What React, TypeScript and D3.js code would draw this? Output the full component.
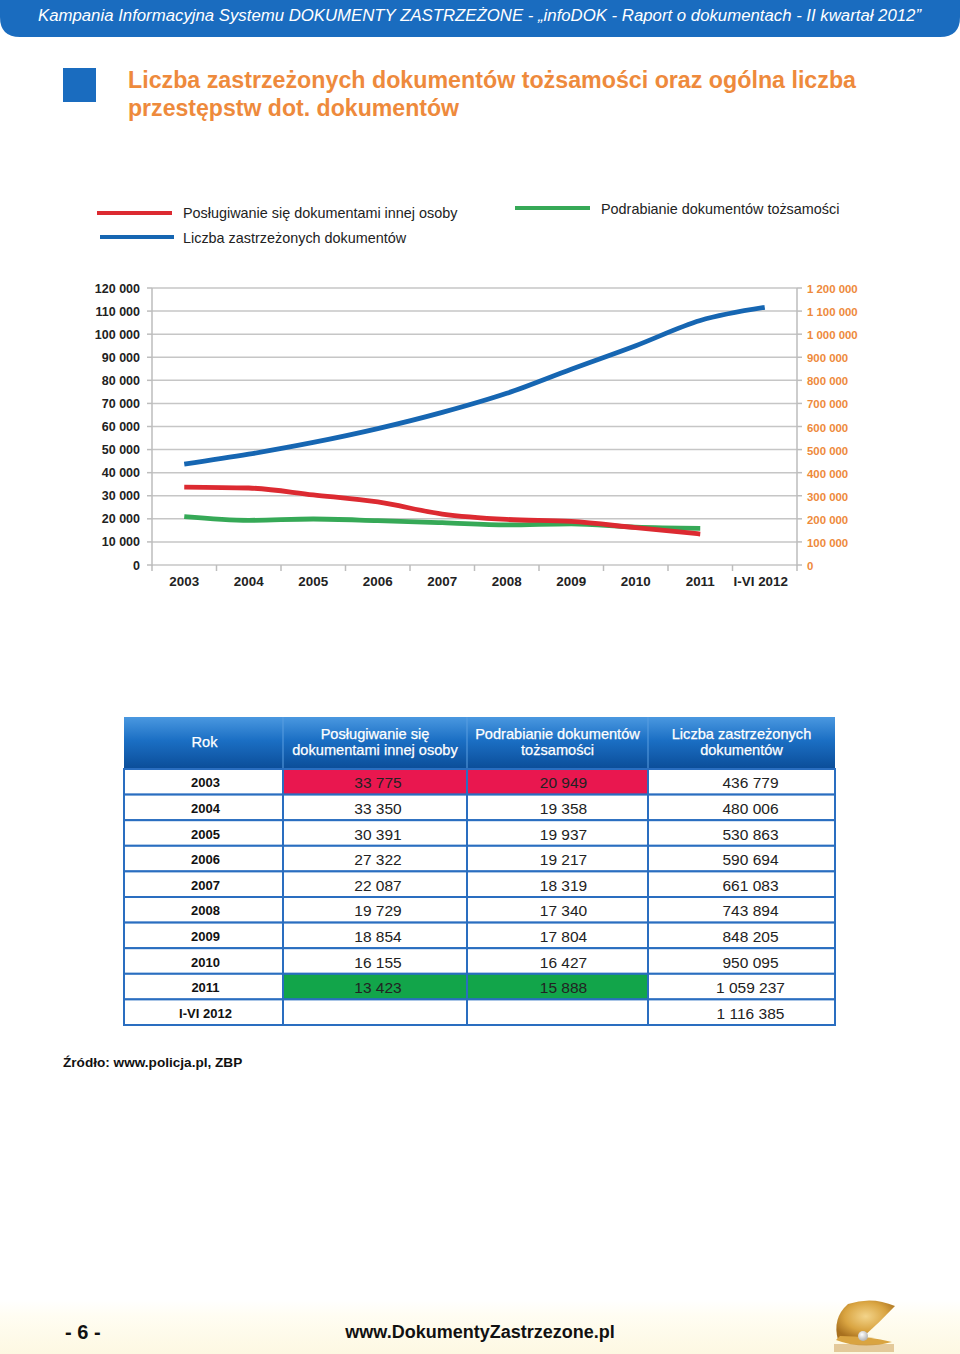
import React from 'react';
import * as d3 from 'd3';

const years = ['2003', '2004', '2005', '2006', '2007', '2008', '2009', '2010', '2011', 'I-VI 2012'];
const uzywanie: (number | null)[] = [33775, 33350, 30391, 27322, 22087, 19729, 18854, 16155, 13423, null];
const podrabianie: (number | null)[] = [20949, 19358, 19937, 19217, 18319, 17340, 17804, 16427, 15888, null];
const zastrzezone: (number | null)[] = [436779, 480006, 530863, 590694, 661083, 743894, 848205, 950095, 1059237, 1116385];
const leftTicks = [0, 10000, 20000, 30000, 40000, 50000, 60000, 70000, 80000, 90000, 100000, 110000, 120000];
const rightTicks = [0, 100000, 200000, 300000, 400000, 500000, 600000, 700000, 800000, 900000, 1000000, 1100000, 1200000];
const seriesNames = ['Posługiwanie się dokumentami innej osoby', 'Podrabianie dokumentów tożsamości', 'Liczba zastrzeżonych dokumentów'];
const tableHeaders = [['Rok'], ['Posługiwanie się', 'dokumentami innej osoby'], ['Podrabianie dokumentów', 'tożsamości'], ['Liczba zastrzeżonych', 'dokumentów']];

const RED = '#dc2a31';
const GREEN = '#36a957';
const BLUE = '#1666b2';
const ORANGE = '#ee8a3c';
const SANS = "'Liberation Sans', Arial, sans-serif";

const fmt = (v: number | null) => (v == null ? '' : d3.format(',')(v).replace(/,/g, ' '));

export default function App() {
  const x = d3.scaleBand<string>().domain(years).range([152, 797]);
  const cx = (d: string) => (x(d) as number) + x.bandwidth() / 2;
  const yL = d3.scaleLinear().domain([0, 120000]).range([565, 288]);
  const yR = d3.scaleLinear().domain([0, 1200000]).range([565, 288]);

  const mkLine = (scale: d3.ScaleLinear<number, number>) =>
    d3
      .line<[string, number | null]>()
      .defined((d) => d[1] != null)
      .x((d) => cx(d[0]))
      .y((d) => scale(d[1] as number))
      .curve(d3.curveMonotoneX);

  const zip = (arr: (number | null)[]) => years.map((y, i) => [y, arr[i]] as [string, number | null]);

  // table layout
  const colX = [124, 283, 467, 648, 835];
  const valShift = [2, 3, 6, 9];
  const headTop = 717;
  const headBot = 769;
  const rowH = 25.6;
  const rows = years.map((y, i) => [y, uzywanie[i], podrabianie[i], zastrzezone[i]] as [string, number | null, number | null, number | null]);
  const highlight = (ri: number, ci: number) => {
    if ((ci === 1 || ci === 2) && ri === 0) return '#e9174f';
    if ((ci === 1 || ci === 2) && ri === 8) return '#12a54a';
    return '#ffffff';
  };

  return (
    <div style={{ position: 'absolute', left: 0, top: 0 }}>
      <svg width={960} height={1354} style={{ display: 'block', fontFamily: SANS }}>
        <defs>
          <linearGradient id="headG" x1="0" x2="0" y1="0" y2="1">
            <stop offset="0" stopColor="#4a98e0" />
            <stop offset="0.45" stopColor="#1b6fc4" />
            <stop offset="1" stopColor="#0b4d98" />
          </linearGradient>
          <linearGradient id="footG" x1="0" x2="0" y1="0" y2="1">
            <stop offset="0" stopColor="#ffffff" />
            <stop offset="0.3" stopColor="#fffdf2" />
            <stop offset="1" stopColor="#fdf8e2" />
          </linearGradient>
          <radialGradient id="shellG" cx="0.5" cy="0.4" r="0.6">
            <stop offset="0" stopColor="#f3d48a" />
            <stop offset="0.6" stopColor="#d9a441" />
            <stop offset="1" stopColor="#a8701e" />
          </radialGradient>
          <radialGradient id="pearlG" cx="0.4" cy="0.35" r="0.6">
            <stop offset="0" stopColor="#ffffff" />
            <stop offset="1" stopColor="#b8b8b8" />
          </radialGradient>
        </defs>
        <rect x={0} y={0} width={960} height={1354} fill="#ffffff" />

        {/* top banner */}
        <path d="M0,0 H960 V17 Q960,37 940,37 H20 Q0,37 0,17 Z" fill="#1a6cbf" />
        <text x={38} y={21} fontSize={16} fontStyle="italic" fill="#ffffff" textLength={883} lengthAdjust="spacingAndGlyphs">
          Kampania Informacyjna Systemu DOKUMENTY ZASTRZEŻONE - „infoDOK - Raport o dokumentach - II kwartał 2012”
        </text>

        {/* title */}
        <rect x={63} y={68} width={33} height={34} fill="#1a6cbf" />
        <text x={128} y={88} fontSize={23} fontWeight={600} fill={ORANGE} textLength={728} lengthAdjust="spacingAndGlyphs">
          Liczba zastrzeżonych dokumentów tożsamości oraz ogólna liczba
        </text>
        <text x={128} y={116} fontSize={23} fontWeight={600} fill={ORANGE} textLength={331} lengthAdjust="spacingAndGlyphs">
          przestępstw dot. dokumentów
        </text>

        {/* legend */}
        <line x1={97} x2={172} y1={213} y2={213} stroke={RED} strokeWidth={4} />
        <text x={183} y={218} fontSize={14.4} fill="#222">{seriesNames[0]}</text>
        <line x1={100} x2={174} y1={237} y2={237} stroke={BLUE} strokeWidth={4} />
        <text x={183} y={242.5} fontSize={14.4} fill="#222">{seriesNames[2]}</text>
        <line x1={515} x2={590} y1={208} y2={208} stroke={GREEN} strokeWidth={4} />
        <text x={601} y={213.5} fontSize={14.4} fill="#222">{seriesNames[1]}</text>

        {/* gridlines */}
        {leftTicks.map((t) => (
          <line key={'g' + t} x1={152} x2={797} y1={yL(t)} y2={yL(t)} stroke="#c6c6c6" strokeWidth={1.5} />
        ))}
        {/* axes */}
        <line x1={152} x2={152} y1={288} y2={566} stroke="#bdbdbd" strokeWidth={1.5} />
        <line x1={797} x2={797} y1={288} y2={566} stroke="#bdbdbd" strokeWidth={1.5} />
        {leftTicks.map((t) => (
          <line key={'lt' + t} x1={147} x2={152} y1={yL(t)} y2={yL(t)} stroke="#bdbdbd" strokeWidth={1.5} />
        ))}
        {rightTicks.map((t) => (
          <line key={'rt' + t} x1={797} x2={802} y1={yR(t)} y2={yR(t)} stroke="#bdbdbd" strokeWidth={1.5} />
        ))}
        {[...years.map((y) => x(y) as number), 797].map((v, i) => (
          <line key={'bt' + i} x1={v} x2={v} y1={565} y2={571} stroke="#bdbdbd" strokeWidth={1.5} />
        ))}
        {leftTicks.map((t) => (
          <text key={'ll' + t} x={140} y={yL(t) + 4.5} textAnchor="end" fontSize={12.5} fontWeight="bold" fill="#222">
            {fmt(t)}
          </text>
        ))}
        {rightTicks.map((t) => (
          <text key={'rl' + t} x={807} y={yR(t) + 5} fontSize={11.4} fontWeight="bold" fill={ORANGE}>
            {fmt(t)}
          </text>
        ))}
        {years.map((y) => (
          <text key={'xl' + y} x={cx(y) - (y.length > 4 ? 4 : 0)} y={586} textAnchor="middle" fontSize={13.4} fontWeight="bold" fill="#222">
            {y}
          </text>
        ))}

        {/* series */}
        <path d={mkLine(yR)(zip(zastrzezone)) || ''} fill="none" stroke={BLUE} strokeWidth={4.8} />
        <path d={mkLine(yL)(zip(podrabianie)) || ''} fill="none" stroke={GREEN} strokeWidth={4.8} />
        <path d={mkLine(yL)(zip(uzywanie)) || ''} fill="none" stroke={RED} strokeWidth={4.8} />

        {/* table header */}
        <rect x={colX[0]} y={headTop} width={colX[4] - colX[0]} height={headBot - headTop} fill="url(#headG)" />
        {colX.slice(1, 4).map((c) => (
          <line key={'hs' + c} x1={c} x2={c} y1={headTop} y2={headBot} stroke="#5a9ee0" strokeWidth={1} />
        ))}
        {tableHeaders.map((lines, ci) => {
          const mid = (colX[ci] + colX[ci + 1]) / 2 + (ci === 0 ? 1 : 0);
          const cy = (headTop + headBot) / 2 - 1;
          return lines.map((ln, li) => (
            <text
              key={'th' + ci + li}
              x={mid}
              y={cy + 5 + (li - (lines.length - 1) / 2) * 16}
              textAnchor="middle"
              fontSize={14.6}
              fill="#ffffff"
              stroke="#ffffff"
              strokeWidth={0.25}
            >
              {ln}
            </text>
          ));
        })}

        {/* table body */}
        {rows.map((r, ri) => {
          const top = headBot + ri * rowH;
          return (
            <g key={'row' + ri}>
              {[0, 1, 2, 3].map((ci) => (
                <rect
                  key={'c' + ci}
                  x={colX[ci]}
                  y={top}
                  width={colX[ci + 1] - colX[ci]}
                  height={rowH}
                  fill={highlight(ri, ci)}
                  stroke="#2a6ec0"
                  strokeWidth={2}
                />
              ))}
              <text x={(colX[0] + colX[1]) / 2 + valShift[0]} y={top + rowH / 2 + 5.5} textAnchor="middle" fontSize={13} fontWeight="bold" fill="#111">
                {r[0]}
              </text>
              {[1, 2, 3].map((ci) => (
                <text
                  key={'v' + ci}
                  x={(colX[ci] + colX[ci + 1]) / 2 + valShift[ci]}
                  y={top + rowH / 2 + 6.5}
                  textAnchor="middle"
                  fontSize={15.5}
                  fill="#222"
                >
                  {fmt(r[ci] as number | null)}
                </text>
              ))}
            </g>
          );
        })}

        {/* source */}
        <text x={63} y={1067} fontSize={13.6} fontWeight="bold" fill="#111">
          Źródło: www.policja.pl, ZBP
        </text>

        {/* footer */}
        <rect x={0} y={1300} width={960} height={54} fill="url(#footG)" />
        <text x={65} y={1339} fontSize={20} fontWeight="bold" fill="#111">
          - 6 -
        </text>
        <text x={480} y={1338} textAnchor="middle" fontSize={18} fontWeight="bold" fill="#111">
          www.DokumentyZastrzezone.pl
        </text>
        <g>
          <path d="M838,1340 Q832,1318 848,1304 Q872,1296 895,1306 Q880,1322 862,1338 Z" fill="url(#shellG)" />
          <path d="M836,1340 Q862,1350 892,1342 Q870,1336 840,1336 Z" fill="#d9a441" />
          <circle cx={863} cy={1336} r={5} fill="url(#pearlG)" />
          <rect x={834} y={1344} width={60} height={8} fill="#c99a50" opacity={0.5} />
        </g>
      </svg>
    </div>
  );
}
